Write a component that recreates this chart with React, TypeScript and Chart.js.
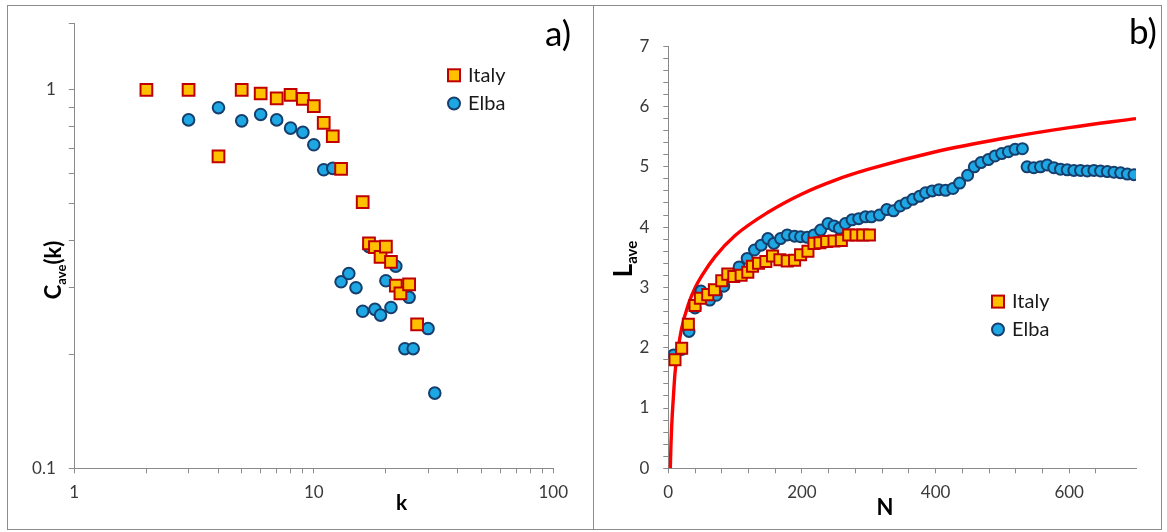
import React, { useEffect, useRef } from 'react';
import { Chart, registerables } from 'chart.js';

Chart.register(...registerables);

const FONT = 'Lato, "Open Sans", "DejaVu Sans", sans-serif';

// ---------- Panel a) : C_ave(k) vs k (log-log) ----------
const aItalyK = [2, 3, 4, 5, 6, 7, 8, 9, 10, 11, 12, 13, 16, 17, 18, 19, 20, 21, 22, 23, 25, 27];
const aItalyC = [1.0, 1.0, 0.667, 1.0, 0.978, 0.95, 0.97, 0.946, 0.906, 0.818, 0.754, 0.618, 0.505, 0.393, 0.384, 0.362, 0.385, 0.351, 0.304, 0.29, 0.306, 0.24];
const aElbaK = [3, 4, 5, 6, 7, 8, 9, 10, 11, 12, 13, 14, 15, 16, 17, 18, 19, 20, 21, 22, 24, 25, 26, 30, 32];
const aElbaC = [0.833, 0.897, 0.828, 0.861, 0.833, 0.792, 0.772, 0.716, 0.615, 0.62, 0.311, 0.327, 0.3, 0.26, 0.385, 0.263, 0.254, 0.313, 0.266, 0.342, 0.207, 0.283, 0.207, 0.234, 0.158];
const aXTickLabels = ['1', '10', '100'];
const aYTickLabels = ['0.1', '1'];

// ---------- Panel b) : L_ave vs N ----------
const bItalyN = [10, 20, 30, 40, 48, 59, 69, 80, 89, 98, 109, 119, 126, 135, 146, 156, 167, 178, 189, 198, 209, 218, 227, 237, 248, 259, 270, 281, 291, 301];
const bItalyL = [1.8, 1.99, 2.39, 2.7, 2.82, 2.88, 2.96, 3.11, 3.22, 3.18, 3.2, 3.25, 3.35, 3.4, 3.43, 3.52, 3.46, 3.44, 3.45, 3.54, 3.6, 3.73, 3.74, 3.76, 3.77, 3.78, 3.87, 3.87, 3.87, 3.87];
const bElbaN = [8, 20, 31, 40, 49, 62, 72, 83, 93, 106, 118, 129, 139, 149, 158, 168, 178, 189, 198, 208, 218, 228, 239, 248, 256, 265, 275, 285, 295, 304, 316, 327, 337, 347, 356, 366, 376, 385, 395, 405, 415, 426, 436, 448, 458, 468, 479, 489, 499, 509, 519, 530, 537, 547, 557, 567, 577, 587, 597, 607, 617, 627, 637, 647, 657, 667, 677, 687, 697];
const bElbaL = [1.88, 1.97, 2.27, 2.66, 2.94, 2.79, 2.87, 3.02, 3.18, 3.34, 3.48, 3.62, 3.7, 3.81, 3.73, 3.81, 3.87, 3.85, 3.84, 3.83, 3.87, 3.95, 4.06, 4.02, 3.98, 4.06, 4.12, 4.14, 4.17, 4.17, 4.2, 4.29, 4.27, 4.35, 4.4, 4.46, 4.51, 4.57, 4.6, 4.62, 4.61, 4.64, 4.73, 4.86, 5.0, 5.07, 5.12, 5.18, 5.22, 5.25, 5.29, 5.3, 5.0, 4.985, 5.0, 5.03, 4.985, 4.96, 4.95, 4.94, 4.94, 4.93, 4.94, 4.93, 4.92, 4.91, 4.9, 4.88, 4.87];
const bModelN = [3, 4, 5, 6, 8, 10, 14, 20, 30, 40, 50, 70, 100, 150, 200, 250, 300, 400, 500, 600, 700];
const bModelL = [0, 0.4, 0.68, 0.9, 1.25, 1.58, 1.93, 2.32, 2.72, 2.99, 3.19, 3.51, 3.86, 4.25, 4.55, 4.78, 4.96, 5.25, 5.47, 5.65, 5.8];

const seriesNames = ['Italy', 'Elba'];

const ITALY_FILL = '#FFC000';
const ITALY_EDGE = '#C00000';
const ELBA_FILL = '#1DA7E3';
const ELBA_EDGE = '#163F6E';
const AXIS_COLOR = '#8A8A8A';
const TICK_TEXT = '#3A3A3A';

const toPts = (xs: number[], ys: number[]) => xs.map((x, i) => ({ x, y: ys[i] }));

function drawRotatedTitle(ctx: CanvasRenderingContext2D, x: number, y: number, main: string, sub: string, tail: string, mainSize: number, subSize: number) {
  ctx.save();
  ctx.translate(x, y);
  ctx.rotate(-Math.PI / 2);
  ctx.fillStyle = '#000';
  ctx.textBaseline = 'alphabetic';
  ctx.textAlign = 'left';
  const mf = `bold ${mainSize}px ${FONT}`;
  const sf = `bold ${subSize}px ${FONT}`;
  ctx.font = mf;
  const w1 = ctx.measureText(main).width;
  const w3 = tail ? ctx.measureText(tail).width : 0;
  ctx.font = sf;
  const w2 = ctx.measureText(sub).width;
  let cx = -(w1 + w2 + w3) / 2;
  ctx.font = mf;
  ctx.fillText(main, cx, 0);
  cx += w1;
  ctx.font = sf;
  ctx.fillText(sub, cx, subSize * 0.35);
  cx += w2;
  if (tail) {
    ctx.font = mf;
    ctx.fillText(tail, cx, 0);
  }
  ctx.restore();
}

function drawText(ctx: CanvasRenderingContext2D, text: string, x: number, y: number, font: string, align: CanvasTextAlign = 'center', color = '#000') {
  ctx.save();
  ctx.font = font;
  ctx.fillStyle = color;
  ctx.textAlign = align;
  ctx.textBaseline = 'middle';
  ctx.fillText(text, x, y);
  ctx.restore();
}

function drawLegend(ctx: CanvasRenderingContext2D, x: number, y1: number, y2: number, textX: number) {
  ctx.save();
  ctx.lineWidth = 2;
  ctx.fillStyle = ITALY_FILL;
  ctx.strokeStyle = ITALY_EDGE;
  ctx.fillRect(x - 6, y1 - 6, 12, 12);
  ctx.strokeRect(x - 6, y1 - 6, 12, 12);
  ctx.beginPath();
  ctx.arc(x, y2, 6, 0, Math.PI * 2);
  ctx.fillStyle = ELBA_FILL;
  ctx.strokeStyle = ELBA_EDGE;
  ctx.fill();
  ctx.stroke();
  ctx.restore();
  drawText(ctx, seriesNames[0], textX, y1, `20px ${FONT}`, 'left', '#1a1a1a');
  drawText(ctx, seriesNames[1], textX, y2, `20px ${FONT}`, 'left', '#1a1a1a');
}

const isPow10 = (v: number) => Math.abs(Math.log10(v) - Math.round(Math.log10(v))) < 1e-6;

const axisGrid = (len: number) => ({
  drawOnChartArea: false,
  drawTicks: true,
  tickLength: len,
  color: AXIS_COLOR,
  lineWidth: 1,
});
const axisBorder = { display: true, color: AXIS_COLOR, width: 1 };
const tickFont = { family: FONT, size: 17 };

export default function App() {
  const refA = useRef<HTMLCanvasElement>(null);
  const refB = useRef<HTMLCanvasElement>(null);

  useEffect(() => {
    const OFF_B = 595;
    const chartA = new Chart(refA.current as HTMLCanvasElement, {
      type: 'scatter',
      data: {
        datasets: [
          {
            label: seriesNames[0],
            data: toPts(aItalyK, aItalyC),
            pointStyle: 'rect',
            pointRadius: 8.3,
            backgroundColor: ITALY_FILL,
            borderColor: ITALY_EDGE,
            borderWidth: 2,
            pointBorderWidth: 2,
            order: 0,
          },
          {
            label: seriesNames[1],
            data: toPts(aElbaK, aElbaC),
            pointStyle: 'circle',
            pointRadius: 5.8,
            backgroundColor: ELBA_FILL,
            borderColor: ELBA_EDGE,
            borderWidth: 2,
            pointBorderWidth: 2,
            order: 1,
          },
        ],
      },
      options: {
        animation: false,
        responsive: false,
        events: [],
        layout: { padding: { left: 0, right: 41.7, top: 20.7, bottom: 0 } },
        plugins: { legend: { display: false }, tooltip: { enabled: false } },
        scales: {
          x: {
            type: 'logarithmic',
            min: 1,
            max: 100,
            afterFit: (s: any) => { s.height = 63.7; },
            afterBuildTicks: (s: any) => {
              s.ticks = s.ticks.filter((t: any) => {
                const p = Math.pow(10, Math.floor(Math.log10(t.value) + 1e-9));
                return Math.abs(t.value / p - Math.round(t.value / p)) < 1e-6;
              });
            },
            ticks: {
              autoSkip: false,
              maxRotation: 0,
              padding: 9.5,
              color: TICK_TEXT,
              font: tickFont,
              callback: (v: any) => {
                const n = Number(v);
                if (!isPow10(n)) return '';
                const lab = aXTickLabels.find((l) => Math.abs(Number(l) - n) < 1e-6);
                return lab || '';
              },
            },
            grid: axisGrid(5),
            border: axisBorder,
          },
          y: {
            type: 'logarithmic',
            min: 0.1,
            max: 1.5,
            afterFit: (s: any) => { s.width = 74.3; },
            ticks: {
              autoSkip: false,
              padding: 13,
              color: TICK_TEXT,
              font: tickFont,
              callback: (v: any) => {
                const n = Number(v);
                if (!isPow10(n)) return '';
                const lab = aYTickLabels.find((l) => Math.abs(Number(l) - n) < 1e-6);
                return lab || '';
              },
            },
            grid: axisGrid(5.5),
            border: axisBorder,
          },
        },
      },
      plugins: [
        {
          id: 'overlayA',
          afterDraw: (chart: any) => {
            const ctx = chart.ctx as CanvasRenderingContext2D;
            drawRotatedTitle(ctx, 61, 270, 'C', 'ave', '(k)', 22, 13);
            drawText(ctx, 'k', 401.5, 503, `bold 21px ${FONT}`);
            drawText(ctx, 'a)', 558, 35, `35px ${FONT}`);
            drawLegend(ctx, 454, 75.3, 103.5, 468);
          },
        },
      ],
    } as any);

    const chartB = new Chart(refB.current as HTMLCanvasElement, {
      type: 'scatter',
      data: {
        datasets: [
          {
            label: seriesNames[0],
            data: toPts(bItalyN, bItalyL),
            pointStyle: 'rect',
            pointRadius: 7.8,
            backgroundColor: ITALY_FILL,
            borderColor: ITALY_EDGE,
            borderWidth: 2,
            pointBorderWidth: 2,
            order: 0,
          },
          {
            label: seriesNames[1],
            data: toPts(bElbaN, bElbaL),
            pointStyle: 'circle',
            pointRadius: 5.5,
            backgroundColor: ELBA_FILL,
            borderColor: ELBA_EDGE,
            borderWidth: 2,
            pointBorderWidth: 2,
            order: 1,
          },
          {
            label: 'model',
            data: toPts(bModelN, bModelL),
            showLine: true,
            pointRadius: 0,
            borderColor: '#FF0000',
            backgroundColor: '#FF0000',
            borderWidth: 3.4,
            cubicInterpolationMode: 'monotone',
            fill: false,
            order: 2,
          },
        ],
      },
      options: {
        animation: false,
        responsive: false,
        events: [],
        layout: { padding: { left: 0, right: 31, top: 46.2, bottom: 0 } },
        plugins: { legend: { display: false }, tooltip: { enabled: false } },
        scales: {
          x: {
            type: 'linear',
            min: 0,
            max: 700,
            afterFit: (s: any) => { s.height = 63.7; },
            afterBuildTicks: (s: any) => {
              s.ticks = s.ticks.filter((t: any) => Math.abs(t.value / 40 - Math.round(t.value / 40)) < 1e-6);
            },
            ticks: {
              stepSize: 40,
              autoSkip: false,
              maxRotation: 0,
              padding: 9.5,
              color: TICK_TEXT,
              font: tickFont,
              callback: (v: any) => (Number(v) % 200 === 0 ? String(v) : ''),
            },
            grid: axisGrid(5),
            border: axisBorder,
          },
          y: {
            type: 'linear',
            min: 0,
            max: 7,
            afterFit: (s: any) => { s.width = 668.3 - OFF_B; },
            ticks: {
              stepSize: 0.2,
              autoSkip: false,
              padding: 14,
              color: TICK_TEXT,
              font: tickFont,
              callback: (v: any) => {
                const n = Number(v);
                return Math.abs(n - Math.round(n)) < 1e-6 ? String(Math.round(n)) : '';
              },
            },
            grid: axisGrid(5),
            border: axisBorder,
          },
        },
      },
      plugins: [
        {
          id: 'overlayB',
          afterDraw: (chart: any) => {
            const ctx = chart.ctx as CanvasRenderingContext2D;
            drawRotatedTitle(ctx, 632 - OFF_B, 259, 'L', 'ave', '', 26, 15);
            drawText(ctx, 'N', 885 - OFF_B, 508, `bold 22px ${FONT}`);
            drawText(ctx, 'b)', 1143 - OFF_B, 33, `35px ${FONT}`);
            drawLegend(ctx, 998 - OFF_B, 301.6, 329.5, 1012 - OFF_B);
          },
        },
      ],
    } as any);

    return () => {
      chartA.destroy();
      chartB.destroy();
    };
  }, []);

  return (
    <div style={{ position: 'fixed', left: 0, top: 0, width: 1167, height: 532, background: '#fff', overflow: 'hidden' }}>
      <div style={{ position: 'absolute', left: 7, top: 5, width: 1155, height: 525, border: '1px solid #8C8C8C', boxSizing: 'border-box' }} />
      <div style={{ position: 'absolute', left: 593, top: 5, width: 1, height: 525, background: '#8C8C8C' }} />
      <canvas ref={refA} width={595} height={532} style={{ position: 'absolute', left: 0, top: 0, width: 595, height: 532 }} />
      <canvas ref={refB} width={572} height={532} style={{ position: 'absolute', left: 595, top: 0, width: 572, height: 532 }} />
    </div>
  );
}
